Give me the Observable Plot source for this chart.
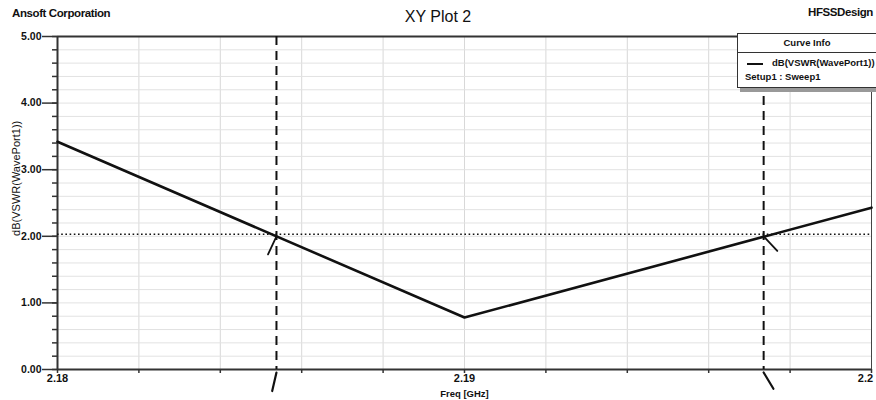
<!DOCTYPE html>
<html>
<head>
<meta charset="utf-8">
<script src="https://cdn.jsdelivr.net/npm/d3@7"></script>
<script src="https://cdn.jsdelivr.net/npm/@observablehq/plot@0.6"></script>
<style>
  html, body { margin: 0; padding: 0; background: #fff; }
  #wrap { position: relative; width: 876px; height: 400px; overflow: hidden; font-family: "Liberation Sans", Arial, sans-serif; color: #111; }
  #chart { position: absolute; left: 0; top: 0; }
  .t { position: absolute; white-space: nowrap; }
  #corp { left: 12px; top: 7px; font-size: 11.5px; font-weight: bold; letter-spacing: -0.4px; }
  #title { left: 0; width: 876px; text-align: center; top: 8px; font-size: 16px; }
  #design { right: 3px; top: 6px; font-size: 11.5px; font-weight: bold; letter-spacing: -0.4px; }
  #legend { position: absolute; left: 737px; top: 33px; width: 150px; height: 53px; background: #fff; border: 1px solid #333; box-shadow: 3px 4px 0 #999; font-size: 9.5px; }
  #legend .hd { height: 18px; line-height: 18px; text-align: center; border-bottom: 1px solid #333; padding-right: 12px; font-weight: bold; }
  #legend .row { position: absolute; white-space: nowrap; font-weight: bold; }
  #legend .sw { position: absolute; left: 9px; top: 29px; width: 16px; height: 0; border-top: 2px solid #111; }
</style>
</head>
<body>
<div id="wrap">
  <div id="chart"></div>
  <div class="t" id="corp">Ansoft Corporation</div>
  <div class="t" id="title">XY Plot 2</div>
  <div class="t" id="design">HFSSDesign</div>
  <div id="legend">
    <div class="hd">Curve Info</div>
    <div class="sw"></div>
    <div class="row" style="left:34px; top:23px;">dB(VSWR(WavePort1))</div>
    <div class="row" style="left:7px; top:37px;">Setup1 : Sweep1</div>
  </div>
</div>
<script>
// ---- data ----
const freq = [2.18, 2.19, 2.2];           // GHz
const vswrDb = [3.42, 0.78, 2.43];        // dB(VSWR(WavePort1))
const refLevel = 2.03;                    // dotted horizontal reference level
const markerFreq = [2.18538, 2.19735];    // vertical marker positions (GHz)
const markerLevel = [2.0, 2.0];           // intersection values
const markerTilt = [25, -43];             // glyph angle at intersections
const axisTilt = [13, -31];               // glyph angle at axis
const yMajor = [0, 1, 2, 3, 4, 5];
const xLabels = [2.18, 2.19, 2.2];
const xLabelText = ["2.18", "2.19", "2.2"];

const curve = freq.map((f, i) => ({f, v: vswrDb[i]}));
const markers = markerFreq.map((f, i) => ({f, v: markerLevel[i], a: markerTilt[i], b: axisTilt[i]}));

const stroke = {
  draw(context, l) { context.moveTo(0, l / 2); context.lineTo(0, -l / 2); }
};

const chart = Plot.plot({
  width: 876,
  height: 400,
  marginLeft: 57,
  marginRight: 5,
  marginTop: 36,
  marginBottom: 31,
  style: { fontFamily: "Liberation Sans, Arial, sans-serif", fontSize: "10.5px", color: "#111", background: "#fff" },
  x: { domain: [2.18, 2.2] },
  y: { domain: [0, 5] },
  marks: [
    Plot.gridX({ ticks: 10, stroke: "#d8d8d8", strokeOpacity: 1, strokeWidth: 1 }),
    Plot.gridY({ ticks: 25, stroke: "#e2e2e2", strokeOpacity: 1, strokeWidth: 1 }),
    Plot.frame({ stroke: "#444", strokeWidth: 1 }),
    Plot.ruleY([5], { stroke: "#333", strokeWidth: 2 }),
    Plot.ruleY([0], { stroke: "#333", strokeWidth: 2 }),
    Plot.ruleX([2.18], { stroke: "#333", strokeWidth: 2 }),
    Plot.axisY({ ticks: 25, tickSize: 5, text: null, label: null, stroke: "#333", strokeWidth: 1.5 }),
    Plot.axisY({ ticks: yMajor, tickSize: 15, tickPadding: 1, tickFormat: d => d.toFixed(2), label: null, stroke: "#333", strokeWidth: 1.5, fontWeight: "bold" }),
    Plot.axisX({ ticks: 10, tickSize: 4, text: null, label: null, stroke: "#333", strokeWidth: 1.5 }),
    Plot.axisX({ ticks: xLabels.slice(0, 2), tickSize: 0, tickPadding: 5, tickFormat: (d, i) => xLabelText[i], label: null, fontSize: 11, fontWeight: "bold" }),
    Plot.axisX({ ticks: xLabels.slice(2), tickSize: 0, tickPadding: 5, dx: -6, tickFormat: () => xLabelText[2], label: null, fontSize: 11, fontWeight: "bold" }),
    Plot.text(["Freq [GHz]"], { x: 2.19, y: 0, dy: 24, fontSize: 9.5, fontWeight: "bold" }),
    Plot.text(["dB(VSWR(WavePort1))"], { frameAnchor: "left", textAnchor: "middle", dx: -41, y: 2.87, rotate: -90, fontSize: 11 }),
    Plot.ruleY([refLevel], { stroke: "#111", strokeWidth: 1.6, strokeDasharray: "1.6,2.6" }),
    Plot.ruleX(markers, { x: "f", y1: 5, y2: 0, stroke: "#111", strokeWidth: 2, strokeDasharray: "9,6" }),
    Plot.line(curve, { x: "f", y: "v", stroke: "#111", strokeWidth: 2.6 }),
    Plot.vector(markers, { x: "f", y: "v", rotate: "a", length: 20, anchor: "middle", shape: stroke, stroke: "#111", strokeWidth: 1.8 }),
    Plot.vector(markers, { x: "f", y: 0, dy: 3, rotate: "b", length: 19, anchor: "middle", shape: stroke, stroke: "#111", strokeWidth: 2.2 })
  ]
});
document.getElementById("chart").appendChild(chart);
</script>
</body>
</html>
